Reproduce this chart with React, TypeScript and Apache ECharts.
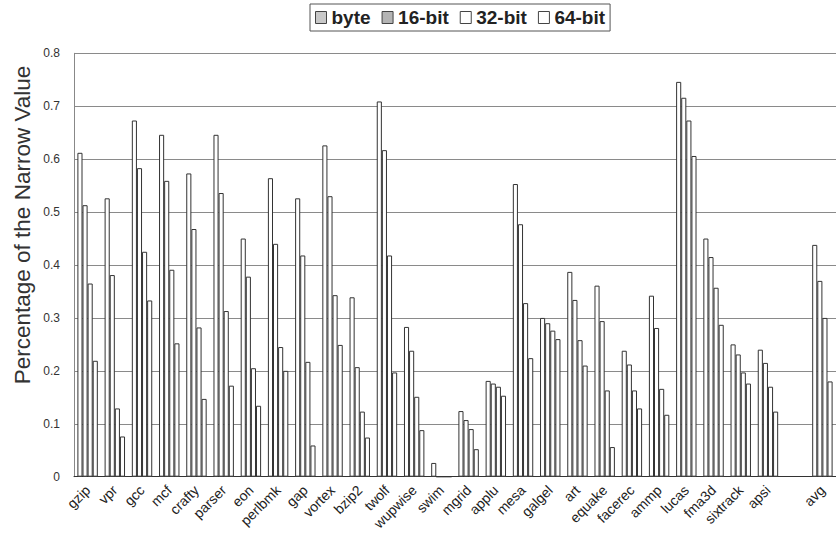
import React, { useEffect, useRef } from "react";
import * as echarts from "echarts";

const categories = [
  "gzip", "vpr", "gcc", "mcf", "crafty", "parser", "eon", "perlbmk", "gap", "vortex",
  "bzip2", "twolf", "wupwise", "swim", "mgrid", "applu", "mesa", "galgel", "art", "equake",
  "facerec", "ammp", "lucas", "fma3d", "sixtrack", "apsi", "", "avg",
];

const seriesNames = ["byte", "16-bit", "32-bit", "64-bit"];

const byteValues = [
  0.612, 0.526, 0.673, 0.646, 0.573, 0.646, 0.45, 0.564, 0.526, 0.626,
  0.339, 0.709, 0.283, 0.026, 0.124, 0.181, 0.553, 0.3, 0.387, 0.361,
  0.238, 0.342, 0.746, 0.45, 0.25, 0.24, null, 0.438,
];
const bit16Values = [
  0.513, 0.381, 0.583, 0.559, 0.468, 0.536, 0.378, 0.44, 0.418, 0.53,
  0.207, 0.617, 0.238, 0, 0.107, 0.176, 0.477, 0.29, 0.334, 0.294,
  0.212, 0.281, 0.716, 0.415, 0.231, 0.215, null, 0.37,
];
const bit32Values = [
  0.365, 0.129, 0.425, 0.391, 0.282, 0.313, 0.205, 0.245, 0.217, 0.343,
  0.123, 0.418, 0.151, 0, 0.09, 0.17, 0.328, 0.276, 0.258, 0.163,
  0.163, 0.166, 0.673, 0.357, 0.197, 0.17, null, 0.3,
];
const bit64Values = [
  0.219, 0.076, 0.333, 0.252, 0.147, 0.172, 0.134, 0.2, 0.059, 0.249,
  0.074, 0.197, 0.088, 0, 0.052, 0.153, 0.224, 0.26, 0.21, 0.056,
  0.129, 0.117, 0.606, 0.287, 0.176, 0.123, null, 0.18,
];

const yTicks = [0, 0.1, 0.2, 0.3, 0.4, 0.5, 0.6, 0.7, 0.8];
const yAxisTitle = "Percentage of the Narrow Value";

export default function App() {
  const ref = useRef<HTMLDivElement>(null);

  useEffect(() => {
    document.body.style.margin = "0";
    if (!ref.current) return;
    const chart = echarts.init(ref.current, null, { renderer: "svg" });
    const values = [byteValues, bit16Values, bit32Values, bit64Values];
    const legendFills = ["#c8c8c8", "#b4b4b4", "#ffffff", "#ffffff"];

    chart.setOption({
      animation: false,
      backgroundColor: "#ffffff",
      textStyle: { fontFamily: "Liberation Sans, Arial, sans-serif" },
      legend: {
        left: 310,
        top: 4,
        padding: [4, 5],
        borderColor: "#555",
        borderWidth: 1,
        itemWidth: 11,
        itemHeight: 12,
        itemGap: 11,
        icon: "rect",
        textStyle: { fontSize: 19, fontWeight: "bold", color: "#222" },
        data: seriesNames.map((n, i) => ({
          name: n,
          itemStyle: { color: legendFills[i], borderColor: "#444", borderWidth: 1 },
        })),
      },
      grid: { left: 74, top: 53.3, width: 773, height: 423.4, containLabel: false },
      xAxis: {
        type: "category",
        data: categories,
        axisLine: { show: true, lineStyle: { color: "#333", width: 1 } },
        axisTick: { show: false },
        axisLabel: {
          interval: 0,
          rotate: 45,
          fontSize: 14,
          color: "#222",
          margin: 11,
        },
      },
      yAxis: {
        type: "value",
        min: yTicks[0],
        max: yTicks[yTicks.length - 1],
        interval: 0.1,
        axisLine: { show: true, lineStyle: { color: "#888" } },
        axisTick: { show: false },
        splitLine: { show: true, lineStyle: { color: "#8a8a8a", width: 1 } },
        axisLabel: {
          fontSize: 12,
          color: "#333",
          margin: 14,
          formatter: (v: number) => (v === 0 ? "0" : v.toFixed(1)),
        },
      },
      graphic: [
        {
          type: "text",
          x: 22,
          y: 225,
          rotation: Math.PI / 2,
          style: {
            text: yAxisTitle,
            x: 0,
            y: 0,
            align: "center",
            verticalAlign: "middle",
            fontSize: 22.5,
            fontFamily: "Liberation Sans, Arial, sans-serif",
            fill: "#333",
          },
        },
      ],
      series: seriesNames.map((n, i) => ({
        name: n,
        type: "bar",
        data: values[i],
        barGap: "0%",
        barCategoryGap: "25%",
        itemStyle: { color: "#ffffff", borderColor: "#333", borderWidth: 1 },
      })),
    });

    return () => chart.dispose();
  }, []);

  return <div ref={ref} style={{ width: 836, height: 543 }} />;
}
